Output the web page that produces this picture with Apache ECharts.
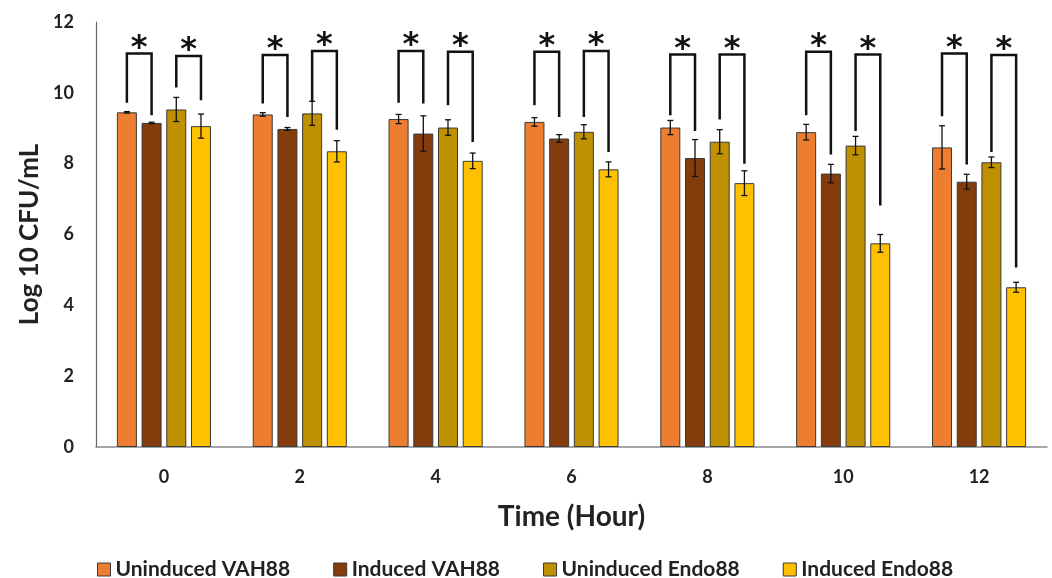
<!DOCTYPE html>
<html>
<head>
<meta charset="utf-8">
<script src="https://cdn.jsdelivr.net/npm/echarts@6/dist/echarts.min.js"></script>
<style>
  html, body { margin: 0; padding: 0; background: #fff; }
  #main { width: 1052px; height: 578px; }
</style>
</head>
<body>
<div id="main"></div>
<script>
var hours = ['0', '2', '4', '6', '8', '10', '12'];
var seriesNames = ['Uninduced VAH88', 'Induced VAH88', 'Uninduced Endo88', 'Induced Endo88'];
var colors = ['#ED7D31', '#843C0C', '#BF9000', '#FFC000'];

var uninducedVAH = [9.45, 9.39, 9.26, 9.18, 9.02, 8.89, 8.46];
var inducedVAH = [9.15, 8.98, 8.85, 8.71, 8.16, 7.72, 7.49];
var uninducedEndo = [9.53, 9.42, 9.02, 8.90, 8.62, 8.51, 8.04];
var inducedEndo = [9.06, 8.35, 8.08, 7.84, 7.45, 5.75, 4.51];

var errUninducedVAH = [0.02, 0.05, 0.13, 0.12, 0.20, 0.22, 0.61];
var errInducedVAH = [0.02, 0.04, 0.50, 0.11, 0.52, 0.26, 0.21];
var errUninducedEndo = [0.34, 0.34, 0.22, 0.20, 0.34, 0.26, 0.15];
var errInducedEndo = [0.34, 0.30, 0.22, 0.21, 0.35, 0.25, 0.14];

// significance brackets: [top, left leg end, right leg end]
var bracketVAH = [[11.11, 9.72, 9.37], [11.07, 9.70, 9.32], [11.18, 9.72, 9.70], [11.16, 9.65, 9.32],
                  [11.08, 9.37, 8.92], [11.16, 9.37, 8.26], [11.11, 9.34, 7.98]];
var bracketEndo = [[11.04, 10.15, 9.79], [11.18, 9.75, 8.96], [11.16, 9.65, 8.61], [11.18, 9.32, 8.33],
                   [11.08, 9.25, 8.00], [11.08, 8.92, 6.82], [11.07, 8.33, 5.07]];

var values = [uninducedVAH, inducedVAH, uninducedEndo, inducedEndo];
var errors = [errUninducedVAH, errInducedVAH, errUninducedEndo, errInducedEndo];

var BAR_W = 20;
var PITCH = 24.7;
var FONT = 'Lato';

function barOffset(k) {
    return (k - 1.5) * PITCH;
}

var series = [];
values.forEach(function (vals, k) {
    series.push({
        name: seriesNames[k],
        type: 'bar',
        barWidth: BAR_W,
        barGap: '23.5%',
        barCategoryGap: '30%',
        itemStyle: { color: colors[k], borderColor: '#3a3a3a', borderWidth: 1 },
        data: vals
    });
});

// error bars
values.forEach(function (vals, k) {
    series.push({
        type: 'custom',
        silent: true,
        z: 5,
        data: vals.map(function (v, i) { return [i, v, errors[k][i]]; }),
        renderItem: function (params, api) {
            var c = api.coord([api.value(0), api.value(1)]);
            var x = c[0] + barOffset(k);
            var hi = api.coord([api.value(0), api.value(1) + api.value(2)])[1];
            var lo = api.coord([api.value(0), api.value(1) - api.value(2)])[1];
            var st = { stroke: '#111', lineWidth: 1.3 };
            return {
                type: 'group',
                children: [
                    { type: 'line', shape: { x1: x, y1: hi, x2: x, y2: lo }, style: st },
                    { type: 'line', shape: { x1: x - 3, y1: hi, x2: x + 3, y2: hi }, style: st },
                    { type: 'line', shape: { x1: x - 3, y1: lo, x2: x + 3, y2: lo }, style: st }
                ]
            };
        }
    });
});

// brackets with asterisks
[[bracketVAH, 0], [bracketEndo, 2]].forEach(function (pair) {
    var data = pair[0], first = pair[1];
    series.push({
        type: 'custom',
        silent: true,
        z: 6,
        data: data.map(function (b, i) { return [i, b[0], b[1], b[2]]; }),
        renderItem: function (params, api) {
            var cx = api.coord([api.value(0), 0])[0];
            var xl = cx + barOffset(first);
            var xr = cx + barOffset(first + 1);
            var top = api.coord([api.value(0), api.value(1)])[1];
            var yl = api.coord([api.value(0), api.value(2)])[1];
            var yr = api.coord([api.value(0), api.value(3)])[1];
            return {
                type: 'group',
                children: [
                    {
                        type: 'polyline',
                        shape: { points: [[xl, yl], [xl, top], [xr, top], [xr, yr]] },
                        style: { stroke: '#111', lineWidth: 2.5, fill: null }
                    },
                    {
                        type: 'text',
                        style: {
                            x: (xl + xr) / 2, y: top + 11,
                            text: '*', fill: '#111',
                            font: 'bold 32px "DejaVu Sans"',
                            align: 'center', verticalAlign: 'bottom'
                        }
                    }
                ]
            };
        }
    });
});

var chart = echarts.init(document.getElementById('main'));
chart.setOption({
    animation: false,
    color: colors,
    grid: { left: 96, right: 5, top: 22, bottom: 131 },
    legend: {
        data: seriesNames,
        top: 554,
        left: 92,
        icon: 'rect',
        itemWidth: 13,
        itemHeight: 13,
        itemGap: 43,
        itemStyle: { borderColor: '#3a3a3a', borderWidth: 1 },
        textStyle: { fontFamily: FONT, fontWeight: 'bold', fontSize: 21, color: '#222' }
    },
    xAxis: {
        type: 'category',
        data: hours,
        name: 'Time (Hour)',
        nameLocation: 'middle',
        nameGap: 56,
        nameTextStyle: { fontFamily: FONT, fontWeight: 'bold', fontSize: 28, color: '#222' },
        axisLine: { lineStyle: { color: '#888', width: 1.5 } },
        axisTick: { show: false },
        axisLabel: { margin: 21, fontFamily: FONT, fontWeight: 'bold', fontSize: 18, color: '#222' }
    },
    yAxis: {
        type: 'value',
        min: 0,
        max: 12,
        interval: 2,
        name: 'Log 10 CFU/mL',
        nameLocation: 'middle',
        nameGap: 50,
        nameTextStyle: { fontFamily: FONT, fontWeight: 'bold', fontSize: 26, color: '#222' },
        axisLine: { show: true, lineStyle: { color: '#666', width: 1.2 } },
        axisTick: { show: false },
        splitLine: { show: false },
        axisLabel: { margin: 22, fontFamily: FONT, fontWeight: 'bold', fontSize: 18, color: '#222' }
    },
    series: series
});
</script>
</body>
</html>
